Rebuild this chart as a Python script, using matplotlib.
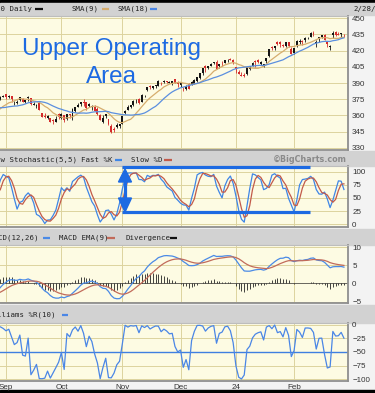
import matplotlib
matplotlib.use('Agg')
import matplotlib.pyplot as plt
from matplotlib.lines import Line2D
from matplotlib.patches import Rectangle, Polygon
import numpy as np
import pandas as pd

# trading days Jul 2023 - Feb 2024 (lead-in before the visible window is for the indicators)
holidays = ['2023-07-04', '2023-09-04', '2023-11-23', '2023-12-25',
            '2024-01-01', '2024-01-15', '2024-02-19']
dates = pd.bdate_range('2023-07-03', '2024-02-28', freq='C', holidays=holidays)

opens = [
    369.6, 368.9, 366.3, 367.4, 365.6, 367.4, 372.0, 377.3, 381.9, 382.7, 384.0, 388.2, 383.4, 378.4, 378.0, 378.2, 377.8, 384.2, 381.0, 384.2,
    383.4, 378.0, 373.2, 377.0, 373.8, 372.6, 373.6, 371.2, 366.8, 366.6, 369.8, 366.1, 363.6, 355.6, 359.3, 365.2, 364.8, 372.3, 362.5, 366.6, 366.6, 375.0, 377.4,
    379.5, 377.0, 377.8, 371.4, 371.8, 374.6, 375.5, 372.5, 376.3, 375.8, 369.8, 368.9, 371.3, 362.0, 359.3, 357.2, 357.6, 355.8, 354.1, 361.0,
    358.0, 360.0, 356.4, 360.9, 357.3, 364.5, 368.2, 370.9, 372.8, 372.3, 368.5, 367.6, 367.6, 366.0, 360.3, 354.3, 359.4, 356.6, 350.4, 347.7, 349.3, 350.6,
    352.2, 362.2, 365.2, 367.7, 369.5, 374.1, 375.0, 372.7, 377.9, 383.5, 387.0, 385.6, 387.6, 387.5, 390.4, 391.0, 391.4, 390.0, 389.5, 393.6, 390.9,
    388.2, 385.6, 384.1, 389.4, 388.2, 389.4, 391.4, 394.8, 399.0, 405.9, 403.5, 406.0, 408.3, 409.2, 405.9, 408.6, 408.8, 411.2, 412.1, 411.6,
    405.0, 400.5, 397.4, 396.9, 398.2, 402.8, 405.8, 410.1, 411.2, 407.8, 406.0, 410.3, 415.0, 423.0, 422.6, 428.4, 428.2, 425.5, 424.4, 427.6, 421.0,
    417.9, 425.0, 428.0, 428.9, 430.2, 431.6, 433.0, 436.4, 426.9, 431.6, 433.0, 434.0, 427.7, 423.3, 434.1, 437.3, 435.3, 435.5, 434.3,
]
highs = [
    370.7, 371.6, 368.4, 370.1, 367.0, 368.8, 374.9, 381.4, 384.5, 385.7, 388.4, 389.0, 384.0, 379.6, 378.9, 380.5, 379.6, 386.4, 384.4, 384.9,
    384.3, 378.4, 376.5, 380.2, 376.0, 373.4, 374.3, 374.9, 368.9, 371.1, 370.4, 368.0, 364.4, 359.9, 364.2, 365.5, 368.6, 372.3, 365.7, 367.4, 375.5, 377.6, 379.2,
    379.7, 378.9, 378.0, 373.0, 374.3, 377.0, 376.2, 374.6, 377.8, 376.1, 372.4, 370.5, 371.7, 362.6, 361.8, 360.2, 357.6, 356.4, 359.4, 361.8,
    362.4, 360.5, 361.2, 361.3, 367.3, 368.2, 371.9, 372.6, 374.8, 372.5, 371.2, 370.1, 369.7, 367.4, 361.0, 360.3, 361.6, 357.0, 351.6, 349.5, 352.7, 352.5,
    359.6, 364.6, 369.2, 369.6, 374.1, 374.9, 376.0, 379.7, 379.2, 386.3, 388.0, 387.4, 388.0, 392.6, 390.8, 393.1, 391.6, 391.6, 392.1, 394.0, 391.4,
    390.5, 386.3, 388.1, 389.6, 391.7, 393.4, 396.0, 399.1, 404.1, 406.6, 405.8, 408.2, 409.7, 411.1, 407.8, 410.6, 411.5, 411.8, 412.8, 412.0,
    405.1, 402.3, 400.6, 399.5, 405.0, 406.0, 409.8, 411.2, 411.8, 410.8, 408.0, 413.4, 421.5, 424.0, 424.2, 429.3, 428.6, 426.4, 428.1, 427.7, 423.1,
    422.2, 430.1, 431.0, 429.6, 432.7, 433.0, 437.3, 437.8, 430.0, 432.7, 434.7, 435.7, 428.3, 425.3, 438.3, 438.2, 437.4, 436.7, 435.6,
]
lows = [
    368.3, 368.3, 364.3, 366.0, 363.8, 365.4, 370.8, 377.0, 379.8, 382.2, 383.1, 385.0, 376.5, 375.2, 375.3, 377.4, 375.5, 376.7, 380.3, 382.6,
    381.6, 374.1, 372.9, 371.5, 371.8, 368.9, 367.1, 367.2, 365.6, 365.1, 366.2, 362.8, 358.6, 354.5, 357.4, 362.3, 364.3, 360.6, 357.9, 363.6, 366.1, 374.2, 377.0,
    375.1, 375.9, 372.0, 369.8, 371.0, 373.3, 372.0, 371.7, 373.6, 369.6, 369.2, 366.9, 364.8, 358.2, 357.9, 356.6, 353.7, 351.9, 353.8, 356.3,
    356.4, 354.1, 355.5, 357.4, 355.6, 363.0, 367.6, 368.6, 368.8, 364.9, 368.0, 364.6, 364.0, 360.5, 355.5, 352.7, 357.6, 351.3, 343.9, 344.5, 348.5, 348.0,
    351.9, 360.9, 364.6, 366.5, 369.1, 371.3, 370.9, 372.3, 376.7, 382.7, 384.7, 384.8, 385.8, 387.3, 388.1, 389.6, 390.3, 389.6, 388.6, 389.8, 386.6,
    386.3, 382.9, 383.6, 384.6, 387.7, 389.3, 390.6, 394.1, 397.7, 400.6, 402.7, 405.9, 407.4, 403.1, 403.5, 406.0, 408.6, 409.8, 410.9, 407.6,
    399.3, 397.9, 396.3, 395.2, 397.8, 402.3, 405.3, 404.9, 408.2, 406.3, 404.7, 408.1, 413.9, 420.4, 421.0, 425.0, 423.4, 423.2, 423.5, 423.7, 416.8,
    416.7, 423.4, 426.3, 425.6, 428.4, 430.8, 432.5, 433.5, 423.7, 427.9, 431.8, 429.5, 423.1, 420.7, 432.0, 433.5, 434.4, 432.5, 432.9,
]
closes = [
    369.9, 370.3, 367.4, 366.0, 366.5, 368.5, 374.4, 381.2, 381.0, 384.6, 387.2, 386.2, 377.8, 376.4, 377.0, 379.8, 378.6, 377.7, 384.0, 384.3,
    382.7, 374.9, 374.4, 372.1, 375.5, 372.7, 368.2, 368.8, 366.9, 370.9, 366.8, 362.8, 358.8, 358.1, 363.8, 363.0, 368.3, 360.9, 364.0, 366.9, 374.8, 376.8, 377.6,
    377.3, 378.0, 374.9, 371.8, 372.6, 376.7, 372.1, 374.0, 377.3, 370.4, 370.8, 369.9, 364.9, 358.3, 358.2, 359.7, 354.1, 354.8, 357.0, 358.3,
    361.6, 355.4, 360.9, 360.1, 365.9, 367.6, 369.6, 372.4, 371.6, 366.5, 370.5, 368.9, 364.5, 361.3, 355.6, 357.4, 361.2, 351.9, 344.5, 346.9, 350.8, 352.4,
    359.2, 364.5, 368.2, 369.3, 373.5, 374.6, 371.5, 379.2, 378.2, 385.9, 386.0, 387.0, 387.6, 392.1, 389.9, 391.4, 390.8, 390.4, 391.5, 390.3, 389.4,
    390.2, 385.3, 386.9, 384.8, 390.8, 392.7, 395.9, 399.0, 403.7, 403.9, 405.3, 407.6, 409.4, 403.2, 407.7, 408.4, 410.9, 411.5, 411.5, 409.5,
    402.6, 398.4, 396.3, 396.5, 404.8, 405.9, 408.6, 409.8, 409.6, 409.7, 407.2, 412.7, 421.2, 422.2, 424.2, 425.8, 426.3, 423.9, 428.1, 424.6, 416.9,
    422.0, 429.0, 429.1, 427.7, 431.8, 432.1, 436.0, 434.9, 428.4, 432.6, 434.3, 430.1, 426.1, 424.5, 436.2, 434.7, 434.8, 435.9, 434.0,
]

price_ticks = [330, 345, 360, 375, 390, 405, 420, 435, 450]
stoch_ticks = [0, 25, 50, 75, 100]
macd_ticks = [-5, 0, 5, 10]
will_ticks = [-100, -75, -50, -25, 0]

df = pd.DataFrame({'o': opens, 'h': highs, 'l': lows, 'c': closes}, index=dates)
x = np.arange(len(df))

# indicators
sma9 = df.c.rolling(9).mean()
sma18 = df.c.rolling(18).mean()
ll5 = df.l.rolling(5).min()
hh5 = df.h.rolling(5).max()
raw_k = 100 * (df.c - ll5) / (hh5 - ll5)
fast_k = raw_k.rolling(3).mean()
slow_d = fast_k.rolling(3).mean()
ema12 = df.c.ewm(span=12, adjust=False).mean()
ema26 = df.c.ewm(span=26, adjust=False).mean()
macd = ema12 - ema26
signal = macd.ewm(span=9, adjust=False).mean()
diverg = macd - signal
hh10 = df.h.rolling(10).max()
ll10 = df.l.rolling(10).min()
willr = -100 * (hh10 - df.c) / (hh10 - ll10)

# month gridlines (Sep onwards is visible)
mon = df.index.month
starts = [i for i in range(1, len(df)) if mon[i] != mon[i - 1]][1:]
labels = ['24' if df.index[i].month == 1 else df.index[i].strftime('%b') for i in starts]
i_sep = starts[0]

W, H = 375, 393
fig = plt.figure(figsize=(W / 100, H / 100), dpi=100, facecolor='#f3f3f3')

def box(x0, y0, x1, y1):
    return [x0 / W, 1 - y1 / H, (x1 - x0) / W, (y1 - y0) / H]

def fp(xp, yp):
    return (xp / W, 1 - yp / H)

def band(y0, y1, color):
    fig.add_artist(Rectangle(fp(0, y1), 1, (y1 - y0) / H, transform=fig.transFigure,
                             color=color, zorder=0))

band(0, 3, '#000000')
band(390, 393, '#000000')
for y0, y1 in [(3, 15), (151, 166), (229, 245), (305, 323)]:
    band(y0, y1, '#d2d2d2')

ax1 = fig.add_axes(box(0, 16, 348, 150))
ax2 = fig.add_axes(box(0, 166, 348, 227))
ax3 = fig.add_axes(box(0, 245, 348, 303))
ax4 = fig.add_axes(box(0, 323, 348, 381))

ppd = 2.77  # pixels per trading day
xlim = (i_sep - 6 / ppd, i_sep + 342 / ppd)
grid_c = '#dcd39e'
for ax, ticks, lim in [(ax1, price_ticks, (328, 452)), (ax2, stoch_ticks, (-5.5, 111)),
                       (ax3, macd_ticks, (-5.4, 10.6)), (ax4, will_ticks, (-103.7, 3.7))]:
    ax.set_facecolor('#fdfbe3')
    ax.set_yticks(ticks)
    ax.set_xticks(starts)
    ax.set_xlim(*xlim)
    ax.set_ylim(*lim)
    ax.yaxis.tick_right()
    ax.tick_params(axis='y', length=0, pad=3, labelsize=5.8, labelcolor='#333333')
    ax.tick_params(axis='x', length=0, labelbottom=False)
    ax.grid(True, color=grid_c, lw=0.7)
    ax.set_axisbelow(True)
    ax.spines['left'].set_visible(False)
    ax.spines['top'].set_color('#bdbdbd')
    ax.spines['top'].set_linewidth(0.8)
    for s in ['right', 'bottom']:
        ax.spines[s].set_color('#8f8f8f')
        ax.spines[s].set_linewidth(1.3)
    for lab in ax.get_yticklabels():
        lab.set_fontfamily('Liberation Sans')

# price candles + SMAs
colors = np.where(df.c >= df.o, '#151515', '#d42b2b')
ax1.vlines(x, df.l, df.h, colors=colors, lw=0.6)
ax1.bar(x, np.maximum((df.c - df.o).abs(), 0.5), bottom=np.minimum(df.o, df.c),
        width=0.7, color=colors, linewidth=0)
ax1.plot(x, sma9, color='#d6ad6e', lw=0.9)
ax1.plot(x, sma18, color='#5b8fdf', lw=0.9)

# stochastic
ax2.plot(x, fast_k, color='#3f86e6', lw=0.9)
ax2.plot(x, slow_d, color='#c25a4a', lw=0.9)

# MACD
ax3.axhline(0, color='#555555', lw=0.6)
ax3.vlines(x, 0, diverg, colors='#222222', lw=0.6)
ax3.plot(x, macd, color='#4a8ae6', lw=0.9)
ax3.plot(x, signal, color='#c26b5a', lw=0.9)

# Williams %R
ax4.axhline(-50, color='#3f7fe0', lw=1.0)
ax4.plot(x, willr, color='#4a86e6', lw=0.9)
ax4.set_xticklabels(labels)
ax4.tick_params(axis='x', labelbottom=True, labelsize=5.8, labelcolor='#333333', pad=2)
for lab in ax4.get_xticklabels():
    lab.set_fontfamily('Liberation Sans')

# header texts
mono = dict(family='DejaVu Sans Mono', fontsize=5.3, color='#222222', va='center')

def dash(x0, x1, yp, color):
    a, b = fp(x0, yp), fp(x1, yp)
    fig.add_artist(Line2D([a[0], b[0]], [a[1], b[1]], transform=fig.transFigure,
                          color=color, lw=1.6, solid_capstyle='butt'))

fig.text(*fp(32, 9), 'NASDAQ 100 Daily', ha='right', **mono)
dash(35, 43, 9, '#111111')
fig.text(*fp(72, 9), 'SMA(9)', ha='left', **mono)
dash(102, 109, 9, '#d6ad6e')
fig.text(*fp(117, 9), 'SMA(18)', ha='left', **mono)
dash(150, 157, 9, '#4a86e6')
fig.text(*fp(353, 9), '2/28/24', ha='left', **mono)

fig.text(*fp(77, 160), 'Slow Stochastic(5,5)', ha='right', **mono)
fig.text(*fp(81, 160), 'Fast %K', ha='left', **mono)
dash(115, 122, 160, '#3f86e6')
fig.text(*fp(131, 160), 'Slow %D', ha='left', **mono)
dash(164, 172, 160, '#c25a4a')
fig.text(*fp(347, 160), '\u00a9BigCharts.com', ha='right', va='center',
         family='DejaVu Sans', fontsize=5.8, fontweight='bold', color='#8a8a8a')

fig.text(*fp(39, 238), 'MACD(12,26)', ha='right', **mono)
dash(43, 50, 238, '#4a8ae6')
fig.text(*fp(59, 238), 'MACD EMA(9)', ha='left', **mono)
dash(107, 115, 238, '#c26b5a')
fig.text(*fp(125, 238), 'Divergence', ha='left', **mono)
dash(170, 177, 238, '#111111')

fig.text(*fp(55, 315), 'Williams %R(10)', ha='right', **mono)
dash(62, 68, 315, '#4a86e6')

# overlay annotation
blue = '#1d6ae2'
fig.text(*fp(111, 55), 'Upper Operating', ha='center', va='baseline',
         family='Liberation Sans', fontsize=17.5, color=blue)
fig.text(*fp(111, 83), 'Area', ha='center', va='baseline',
         family='Liberation Sans', fontsize=17.5, color=blue)

for yp in [167, 212]:
    a, b = fp(122, yp), fp(310, yp)
    fig.add_artist(Line2D([a[0], b[0]], [a[1], b[1]], transform=fig.transFigure,
                          color=blue, lw=2.3, solid_capstyle='butt'))
a, b = fp(125, 181), fp(125, 199)
fig.add_artist(Line2D([a[0], b[0]], [a[1], b[1]], transform=fig.transFigure,
                      color=blue, lw=2.3))
fig.add_artist(Polygon([fp(125, 169), fp(118.5, 182), fp(131.5, 182)],
                       closed=True, transform=fig.transFigure, color=blue))
fig.add_artist(Polygon([fp(125, 212), fp(118.5, 198), fp(131.5, 198)],
                       closed=True, transform=fig.transFigure, color=blue))

fig.savefig('out.png', dpi=100, facecolor=fig.get_facecolor())
